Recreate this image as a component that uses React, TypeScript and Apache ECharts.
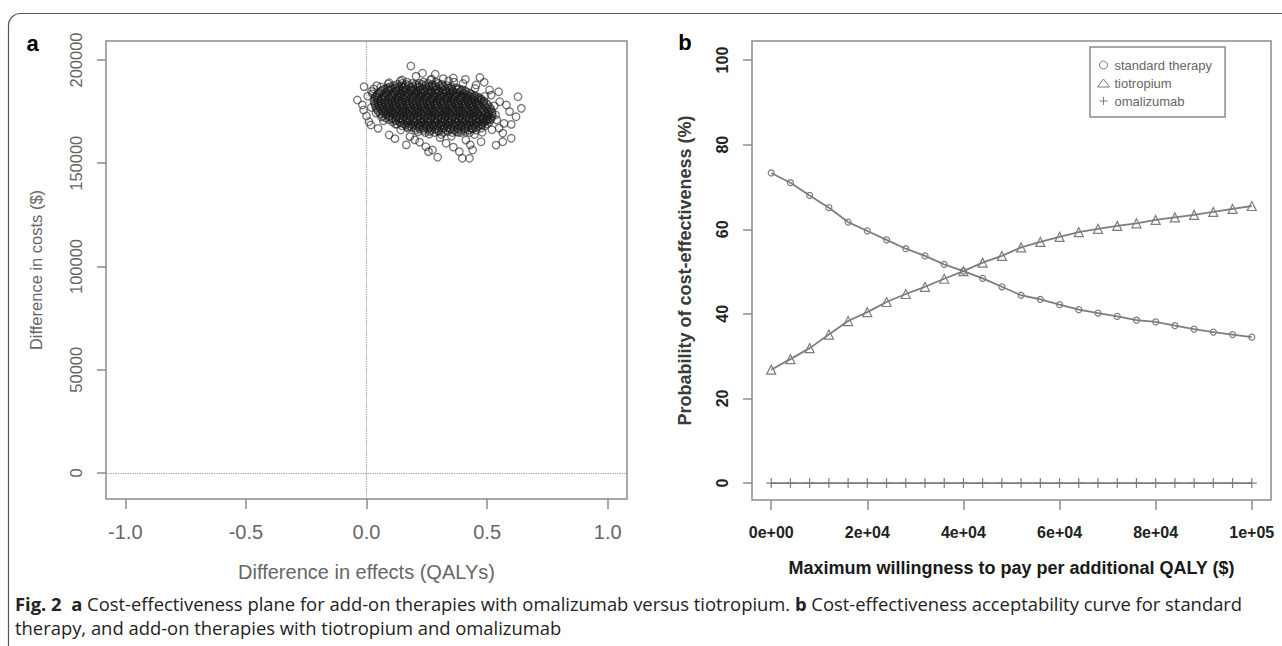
import React, { useEffect, useRef } from "react";
import * as echarts from "echarts";

// ---------- Panel a: cost-effectiveness plane ----------
const effectTicks = [-1, -0.5, 0, 0.5, 1];
const costTicks = [0, 50000, 100000, 150000, 200000];

// dense core of the cloud, by rows of cost (thousand $) with the effects (QALYs) in each row
const coreRowCostsK = [
  189.3, 188.2, 187.1, 186.0, 185.1, 184.0, 182.9, 182.0, 181.0, 180.1, 179.0, 178.1, 177.0,
  176.1, 175.0, 174.1, 173.0, 172.0, 171.1, 170.0, 169.0, 168.1, 167.0, 166.0, 164.9,
  188.7, 187.6, 186.5, 185.6, 184.5, 183.4, 182.4, 181.5, 180.5, 179.6, 178.6, 177.5, 176.6,
  175.5, 174.6, 173.5, 172.5, 171.5, 170.5, 169.5, 168.6, 167.5, 166.5, 165.4,
];
const coreRowEffects = [
  [0.168, 0.236, 0.288],
  [0.128, 0.163, 0.204, 0.231, 0.274, 0.312],
  [0.098, 0.134, 0.158, 0.193, 0.221, 0.259, 0.287, 0.318, 0.352],
  [0.078, 0.103, 0.139, 0.168, 0.197, 0.232, 0.262, 0.291, 0.327, 0.353, 0.384],
  [0.061, 0.089, 0.121, 0.149, 0.183, 0.207, 0.242, 0.268, 0.301, 0.334, 0.358, 0.392, 0.409],
  [0.052, 0.079, 0.112, 0.138, 0.171, 0.199, 0.228, 0.257, 0.284, 0.316, 0.343, 0.371, 0.402, 0.428],
  [0.043, 0.071, 0.103, 0.131, 0.159, 0.192, 0.219, 0.247, 0.279, 0.305, 0.337, 0.362, 0.394, 0.421, 0.447],
  [0.036, 0.066, 0.094, 0.127, 0.152, 0.184, 0.213, 0.241, 0.272, 0.298, 0.329, 0.356, 0.387, 0.413, 0.44, 0.463],
  [0.034, 0.061, 0.092, 0.118, 0.149, 0.177, 0.208, 0.236, 0.266, 0.294, 0.323, 0.351, 0.381, 0.407, 0.436, 0.461, 0.477],
  [0.031, 0.057, 0.089, 0.114, 0.146, 0.171, 0.205, 0.232, 0.259, 0.291, 0.316, 0.348, 0.374, 0.405, 0.431, 0.462, 0.487],
  [0.033, 0.063, 0.09, 0.121, 0.145, 0.178, 0.204, 0.236, 0.261, 0.293, 0.319, 0.352, 0.377, 0.409, 0.434, 0.466, 0.497],
  [0.036, 0.062, 0.095, 0.12, 0.153, 0.177, 0.211, 0.235, 0.268, 0.292, 0.326, 0.351, 0.384, 0.409, 0.443, 0.468, 0.504],
  [0.039, 0.069, 0.094, 0.127, 0.151, 0.186, 0.21, 0.243, 0.267, 0.302, 0.326, 0.359, 0.383, 0.418, 0.441, 0.477, 0.511],
  [0.043, 0.074, 0.099, 0.133, 0.157, 0.191, 0.215, 0.249, 0.273, 0.307, 0.331, 0.366, 0.389, 0.423, 0.447, 0.482, 0.516],
  [0.049, 0.079, 0.106, 0.139, 0.163, 0.197, 0.221, 0.255, 0.279, 0.313, 0.337, 0.371, 0.395, 0.429, 0.453, 0.488, 0.519],
  [0.057, 0.088, 0.113, 0.147, 0.171, 0.205, 0.229, 0.262, 0.287, 0.321, 0.345, 0.378, 0.403, 0.436, 0.461, 0.494, 0.521],
  [0.067, 0.097, 0.124, 0.156, 0.181, 0.214, 0.239, 0.272, 0.297, 0.33, 0.355, 0.388, 0.413, 0.446, 0.471, 0.503, 0.522],
  [0.079, 0.108, 0.139, 0.166, 0.197, 0.224, 0.256, 0.283, 0.311, 0.342, 0.369, 0.398, 0.426, 0.457, 0.484, 0.518],
  [0.092, 0.121, 0.152, 0.179, 0.21, 0.238, 0.267, 0.296, 0.325, 0.353, 0.384, 0.411, 0.442, 0.469, 0.497, 0.515],
  [0.108, 0.137, 0.166, 0.195, 0.226, 0.253, 0.282, 0.313, 0.339, 0.368, 0.399, 0.427, 0.456, 0.485, 0.509],
  [0.126, 0.156, 0.184, 0.214, 0.243, 0.271, 0.302, 0.329, 0.358, 0.388, 0.416, 0.445, 0.474, 0.501],
  [0.147, 0.178, 0.207, 0.236, 0.266, 0.294, 0.323, 0.352, 0.381, 0.41, 0.439, 0.468, 0.491],
  [0.172, 0.203, 0.234, 0.262, 0.291, 0.321, 0.348, 0.379, 0.407, 0.436, 0.475],
  [0.204, 0.238, 0.269, 0.297, 0.331, 0.362, 0.393, 0.424, 0.455],
  [0.243, 0.281, 0.318, 0.356, 0.392, 0.428],
  [0.148, 0.19, 0.219, 0.256, 0.298],
  [0.112, 0.147, 0.176, 0.211, 0.243, 0.272, 0.303, 0.336],
  [0.087, 0.121, 0.151, 0.182, 0.214, 0.246, 0.276, 0.309, 0.341, 0.37],
  [0.069, 0.096, 0.131, 0.161, 0.19, 0.224, 0.253, 0.286, 0.317, 0.346, 0.375, 0.398],
  [0.057, 0.083, 0.124, 0.153, 0.185, 0.214, 0.243, 0.27, 0.301, 0.329, 0.357, 0.387, 0.414],
  [0.048, 0.087, 0.118, 0.145, 0.177, 0.206, 0.233, 0.264, 0.292, 0.322, 0.349, 0.378, 0.408, 0.435],
  [0.041, 0.081, 0.109, 0.141, 0.168, 0.199, 0.227, 0.257, 0.285, 0.314, 0.343, 0.371, 0.401, 0.427, 0.452],
  [0.048, 0.077, 0.106, 0.133, 0.164, 0.192, 0.222, 0.251, 0.279, 0.309, 0.337, 0.366, 0.394, 0.422, 0.449, 0.47],
  [0.045, 0.074, 0.103, 0.131, 0.16, 0.188, 0.219, 0.246, 0.275, 0.304, 0.333, 0.361, 0.39, 0.419, 0.447, 0.474],
  [0.046, 0.076, 0.104, 0.133, 0.161, 0.191, 0.219, 0.249, 0.276, 0.306, 0.335, 0.363, 0.392, 0.421, 0.45, 0.481],
  [0.049, 0.078, 0.107, 0.136, 0.165, 0.194, 0.223, 0.252, 0.281, 0.31, 0.338, 0.367, 0.396, 0.426, 0.455, 0.487],
  [0.052, 0.081, 0.11, 0.139, 0.168, 0.197, 0.226, 0.255, 0.284, 0.313, 0.342, 0.371, 0.4, 0.43, 0.459, 0.493],
  [0.057, 0.086, 0.115, 0.144, 0.173, 0.202, 0.231, 0.26, 0.289, 0.318, 0.347, 0.376, 0.405, 0.434, 0.464, 0.498],
  [0.063, 0.092, 0.121, 0.15, 0.179, 0.208, 0.237, 0.266, 0.295, 0.324, 0.353, 0.382, 0.411, 0.44, 0.47, 0.503],
  [0.071, 0.1, 0.129, 0.158, 0.187, 0.216, 0.245, 0.274, 0.303, 0.332, 0.361, 0.39, 0.419, 0.448, 0.477, 0.507],
  [0.081, 0.11, 0.139, 0.168, 0.197, 0.226, 0.255, 0.284, 0.313, 0.342, 0.371, 0.4, 0.429, 0.458, 0.488, 0.51],
  [0.093, 0.123, 0.152, 0.181, 0.21, 0.239, 0.268, 0.297, 0.326, 0.355, 0.384, 0.412, 0.441, 0.47, 0.501],
  [0.106, 0.136, 0.165, 0.194, 0.224, 0.252, 0.281, 0.31, 0.339, 0.368, 0.397, 0.426, 0.455, 0.483, 0.504],
  [0.122, 0.151, 0.18, 0.209, 0.239, 0.267, 0.296, 0.326, 0.353, 0.383, 0.413, 0.441, 0.47, 0.494],
  [0.141, 0.17, 0.199, 0.229, 0.257, 0.286, 0.316, 0.344, 0.373, 0.402, 0.431, 0.46, 0.486],
  [0.162, 0.192, 0.221, 0.251, 0.28, 0.309, 0.338, 0.367, 0.396, 0.425, 0.454, 0.479],
  [0.188, 0.219, 0.248, 0.277, 0.306, 0.335, 0.364, 0.393, 0.422, 0.456],
  [0.221, 0.253, 0.284, 0.314, 0.347, 0.378, 0.409, 0.44],
  [0.262, 0.299, 0.337, 0.374, 0.41],
];

// scattered simulations around the core
const fringeEffects = [
  0.184, 0.232, 0.285, 0.36, 0.362, -0.01, 0.094, 0.148, -0.038, -0.017, -0.012, 0.01, 0.018, 0.094,
  0.142, 0.18, 0.2, 0.246, 0.257, 0.274, 0.385, 0.397, 0.427, 0.44, 0.33, 0.475, 0.537, 0.565, 0.6,
  0.628, 0.642, 0.62, 0.55, 0.565, 0.51, 0.517, 0.454, 0.58, 0.593, 0.005, 0.021, 0.043, 0.062, 0.048,
  0.118, 0.165, 0.213, 0.305, 0.352, 0.412, 0.448, 0.503, 0.535, 0.552, 0.548, 0.488, 0.41, 0.318,
  0.265, 0.205, 0.12, 0.295, 0.36, 0.6, 0.47, 0.0,
  0.02, 0.025, 0.06, 0.09, 0.14, 0.27, 0.34, 0.4, 0.45, 0.49, 0.53, 0.54, 0.52, 0.48, 0.44, 0.38,
  0.31, 0.26, 0.17, 0.12, 0.07, 0.04, 0.03, 0.57, 0.22, 0.43,
];
const fringeCostsK = [
  197.1, 193.6, 193.1, 191.3, 189.3, 187.1, 189.0, 190.3, 180.6, 178.2, 175.8, 170.1, 168.5, 163.7,
  166.1, 162.9, 161.3, 158.0, 155.6, 156.4, 155.6, 152.4, 152.4, 156.4, 159.7, 160.4, 158.8, 160.4, 162.1,
  182.2, 176.6, 172.5, 167.0, 164.6, 185.5, 183.0, 187.9, 178.2, 175.0, 182.5, 184.8, 187.6, 172.4, 166.9,
  161.9, 158.9, 165.2, 162.4, 163.1, 161.2, 163.9, 170.9, 173.4, 179.8, 184.6, 189.2, 190.6, 191.0,
  190.2, 192.1, 186.3, 152.9, 157.8, 168.8, 191.5, 172.9,
  177.0, 183.6, 186.9, 188.4, 189.8, 190.8, 189.9, 188.6, 186.2, 182.4, 177.8, 171.0, 166.2, 165.0,
  166.8, 164.9, 163.9, 164.1, 167.6, 168.9, 170.6, 174.3, 186.0, 169.3, 160.2, 158.9,
];

// ---------- Panel b: cost-effectiveness acceptability curve ----------
const wtpValues = [
  0, 4000, 8000, 12000, 16000, 20000, 24000, 28000, 32000, 36000, 40000, 44000, 48000, 52000,
  56000, 60000, 64000, 68000, 72000, 76000, 80000, 84000, 88000, 92000, 96000, 100000,
];
const standardTherapy = [
  73.3, 71.0, 68.0, 65.1, 61.7, 59.6, 57.5, 55.4, 53.7, 51.7, 50.1, 48.4, 46.4, 44.4, 43.4, 42.2,
  41.0, 40.2, 39.4, 38.5, 38.1, 37.2, 36.4, 35.7, 35.1, 34.5,
];
const tiotropium = [
  26.8, 29.3, 31.9, 35.1, 38.3, 40.4, 42.8, 44.7, 46.4, 48.3, 50.1, 52.1, 53.7, 55.7, 57.0, 58.2,
  59.3, 60.1, 60.8, 61.4, 62.2, 62.8, 63.4, 64.1, 64.8, 65.5,
];
const omalizumab = [
  0, 0, 0, 0, 0, 0, 0, 0, 0, 0, 0, 0, 0, 0, 0, 0, 0, 0, 0, 0, 0, 0, 0, 0, 0, 0,
];
const wtpTicks = [0, 20000, 40000, 60000, 80000, 100000];
const wtpTickLabels = ["0e+00", "2e+04", "4e+04", "6e+04", "8e+04", "1e+05"];
const probTicks = [0, 20, 40, 60, 80, 100];

const seriesNames = ["standard therapy", "tiotropium", "omalizumab"];

const PLUS = "path://M4.4,0h1.2v4.4h4.4v1.2h-4.4v4.4h-1.2v-4.4h-4.4v-1.2h4.4z";
const SANS = "'Liberation Sans', Arial, sans-serif";
const BOX = "#8c8c8c";
const CURVE = "#7d7d7d";
const GRID_A = { left: 106, top: 41, width: 521, height: 458 };
const GRID_B = { left: 752, top: 41, width: 519, height: 459 };

export default function App() {
  const ref = useRef<HTMLDivElement>(null);

  useEffect(() => {
    if (!ref.current) return;
    const chart = echarts.init(ref.current, null, { renderer: "svg" });

    const planeData: number[][] = [];
    coreRowCostsK.forEach((c, i) => {
      coreRowEffects[i].forEach((e) => planeData.push([e, c * 1000]));
    });
    fringeEffects.forEach((e, i) => planeData.push([e, fringeCostsK[i] * 1000]));

    const pair = (ys: number[]) => wtpValues.map((x, i) => [x, ys[i]]);

    const boldLabel = { color: "#222", fontSize: 16, fontFamily: SANS, fontWeight: "bold" as const };
    const tick = (vals: number[], len: number) => ({
      show: true,
      length: len,
      inside: false,
      customValues: vals,
      lineStyle: { color: BOX, width: 1.5 },
    });
    const noLine = { show: false, onZero: false };
    const boxRect = (g: { left: number; top: number; width: number; height: number }) => ({
      type: "rect",
      silent: true,
      z: 5,
      shape: { x: g.left, y: g.top, width: g.width, height: g.height },
      style: { fill: "none", stroke: BOX, lineWidth: 1.5 },
    });

    const option: any = {
      animation: false,
      backgroundColor: "#fff",
      grid: [
        { ...GRID_A, show: false },
        { ...GRID_B, show: false },
      ],
      xAxis: [
        {
          type: "value",
          gridIndex: 0,
          min: -1.08,
          max: 1.08,
          axisLine: noLine,
          splitLine: { show: false },
          axisTick: tick(effectTicks, 10),
          axisLabel: {
            color: "#666",
            fontSize: 20,
            fontFamily: SANS,
            margin: 23,
            customValues: effectTicks,
            formatter: (v: number) => v.toFixed(1),
          },
          name: "Difference in effects (QALYs)",
          nameLocation: "middle",
          nameGap: 63,
          nameTextStyle: { color: "#666", fontSize: 20, fontFamily: SANS, verticalAlign: "top" },
        },
        {
          type: "value",
          gridIndex: 1,
          min: -4000,
          max: 104000,
          axisLine: noLine,
          splitLine: { show: false },
          axisTick: tick(wtpTicks, 10),
          axisLabel: {
            ...boldLabel,
            margin: 24,
            customValues: wtpTicks,
            formatter: (v: number) => wtpTickLabels[wtpTicks.indexOf(v)] ?? "",
          },
          name: "Maximum willingness to pay per additional QALY ($)",
          nameLocation: "middle",
          nameGap: 59,
          nameTextStyle: { color: "#1a1a1a", fontSize: 18, fontWeight: "bold", fontFamily: SANS, verticalAlign: "top" },
        },
      ],
      yAxis: [
        {
          type: "value",
          gridIndex: 0,
          min: -12600,
          max: 209200,
          axisLine: noLine,
          splitLine: { show: false },
          axisTick: tick(costTicks, 9),
          axisLabel: {
            color: "#666",
            fontSize: 16.5,
            fontFamily: SANS,
            margin: 22,
            rotate: 90,
            customValues: costTicks,
            formatter: (v: number) => String(v),
          },
          name: "Difference in costs ($)",
          nameLocation: "middle",
          nameGap: 62,
          nameRotate: 90,
          nameTextStyle: { color: "#666", fontSize: 16.5, fontFamily: SANS },
        },
        {
          type: "value",
          gridIndex: 1,
          min: -4,
          max: 104.5,
          axisLine: noLine,
          splitLine: { show: false },
          axisTick: tick(probTicks, 9),
          axisLabel: {
            ...boldLabel,
            margin: 22,
            rotate: 90,
            customValues: probTicks,
            formatter: (v: number) => String(v),
          },
          name: "Probability of cost-effectiveness (%)",
          nameLocation: "middle",
          nameGap: 58,
          nameRotate: 90,
          nameTextStyle: { color: "#3a3a3a", fontSize: 18, fontWeight: "bold", fontFamily: SANS },
        },
      ],
      legend: {
        orient: "vertical",
        left: 1090,
        top: 47,
        padding: [11, 13, 9, 7],
        itemGap: 4,
        itemWidth: 12,
        itemHeight: 8,
        borderColor: BOX,
        borderWidth: 1.5,
        borderRadius: 0,
        textStyle: { color: "#666", fontSize: 13, fontFamily: SANS, lineHeight: 14 },
        data: [
          { name: seriesNames[0], icon: "circle", itemStyle: { color: "transparent", borderColor: CURVE, borderWidth: 1 } },
          { name: seriesNames[1], icon: "triangle", itemStyle: { color: "transparent", borderColor: CURVE, borderWidth: 1 } },
          { name: seriesNames[2], icon: PLUS, itemStyle: { color: CURVE, borderWidth: 0 } },
        ],
      },
      series: [
        {
          type: "scatter",
          name: "simulations",
          xAxisIndex: 0,
          yAxisIndex: 0,
          symbol: "circle",
          symbolSize: 7.5,
          itemStyle: { color: "rgba(0,0,0,0)", borderColor: "rgba(25,25,25,0.75)", borderWidth: 1.3 },
          data: planeData,
          silent: true,
          markLine: {
            silent: true,
            symbol: ["none", "none"],
            label: { show: false },
            lineStyle: { type: "dotted", color: "#9a9a9a", width: 1.2 },
            data: [{ xAxis: 0 }, { yAxis: 0 }],
          },
        },
        {
          type: "line",
          name: seriesNames[0],
          xAxisIndex: 1,
          yAxisIndex: 1,
          symbol: "circle",
          symbolSize: 6,
          lineStyle: { color: CURVE, width: 1.8 },
          itemStyle: { color: "rgba(0,0,0,0)", borderColor: CURVE, borderWidth: 1.2 },
          data: pair(standardTherapy),
        },
        {
          type: "line",
          name: seriesNames[1],
          xAxisIndex: 1,
          yAxisIndex: 1,
          symbol: "triangle",
          symbolSize: 9,
          lineStyle: { color: CURVE, width: 1.8 },
          itemStyle: { color: "rgba(0,0,0,0)", borderColor: CURVE, borderWidth: 1.2 },
          data: pair(tiotropium),
        },
        {
          type: "line",
          name: seriesNames[2],
          xAxisIndex: 1,
          yAxisIndex: 1,
          symbol: PLUS,
          symbolSize: 10,
          lineStyle: { color: CURVE, width: 1.8 },
          itemStyle: { color: CURVE, borderWidth: 0 },
          data: pair(omalizumab),
        },
      ],
      graphic: [
        {
          type: "rect",
          silent: true,
          z: -10,
          shape: { x: 8.5, y: 13.5, width: 1400, height: 900, r: 12 },
          style: { fill: "none", stroke: "#555", lineWidth: 1.2 },
        },
        boxRect(GRID_A),
        boxRect(GRID_B),
        {
          type: "text",
          x: 32.5,
          y: 43,
          style: { text: "a", fill: "#000", font: `bold 22px ${SANS}`, align: "center", verticalAlign: "middle" },
        },
        {
          type: "text",
          x: 685,
          y: 42,
          style: { text: "b", fill: "#000", font: `bold 22px ${SANS}`, align: "center", verticalAlign: "middle" },
        },
        {
          type: "text",
          x: 15,
          y: 603,
          style: {
            text:
              "{b|Fig. 2}  {b|a} Cost-effectiveness plane for add-on therapies with omalizumab versus tiotropium. {b|b} Cost-effectiveness acceptability curve for standard",
            fill: "#222",
            fontSize: 18.4,
            fontFamily: "'Open Sans', sans-serif",
            verticalAlign: "middle",
            rich: { b: { fontWeight: "bold", fontSize: 18.4, fontFamily: "'Open Sans', sans-serif", fill: "#222" } },
          },
        },
        {
          type: "text",
          x: 15,
          y: 627,
          style: {
            text: "therapy, and add-on therapies with tiotropium and omalizumab",
            fill: "#222",
            fontSize: 18.4,
            fontFamily: "'Open Sans', sans-serif",
            verticalAlign: "middle",
          },
        },
      ],
    };

    chart.setOption(option);
    return () => chart.dispose();
  }, []);

  return <div ref={ref} style={{ position: "absolute", left: 0, top: 0, width: 1282, height: 646 }} />;
}
